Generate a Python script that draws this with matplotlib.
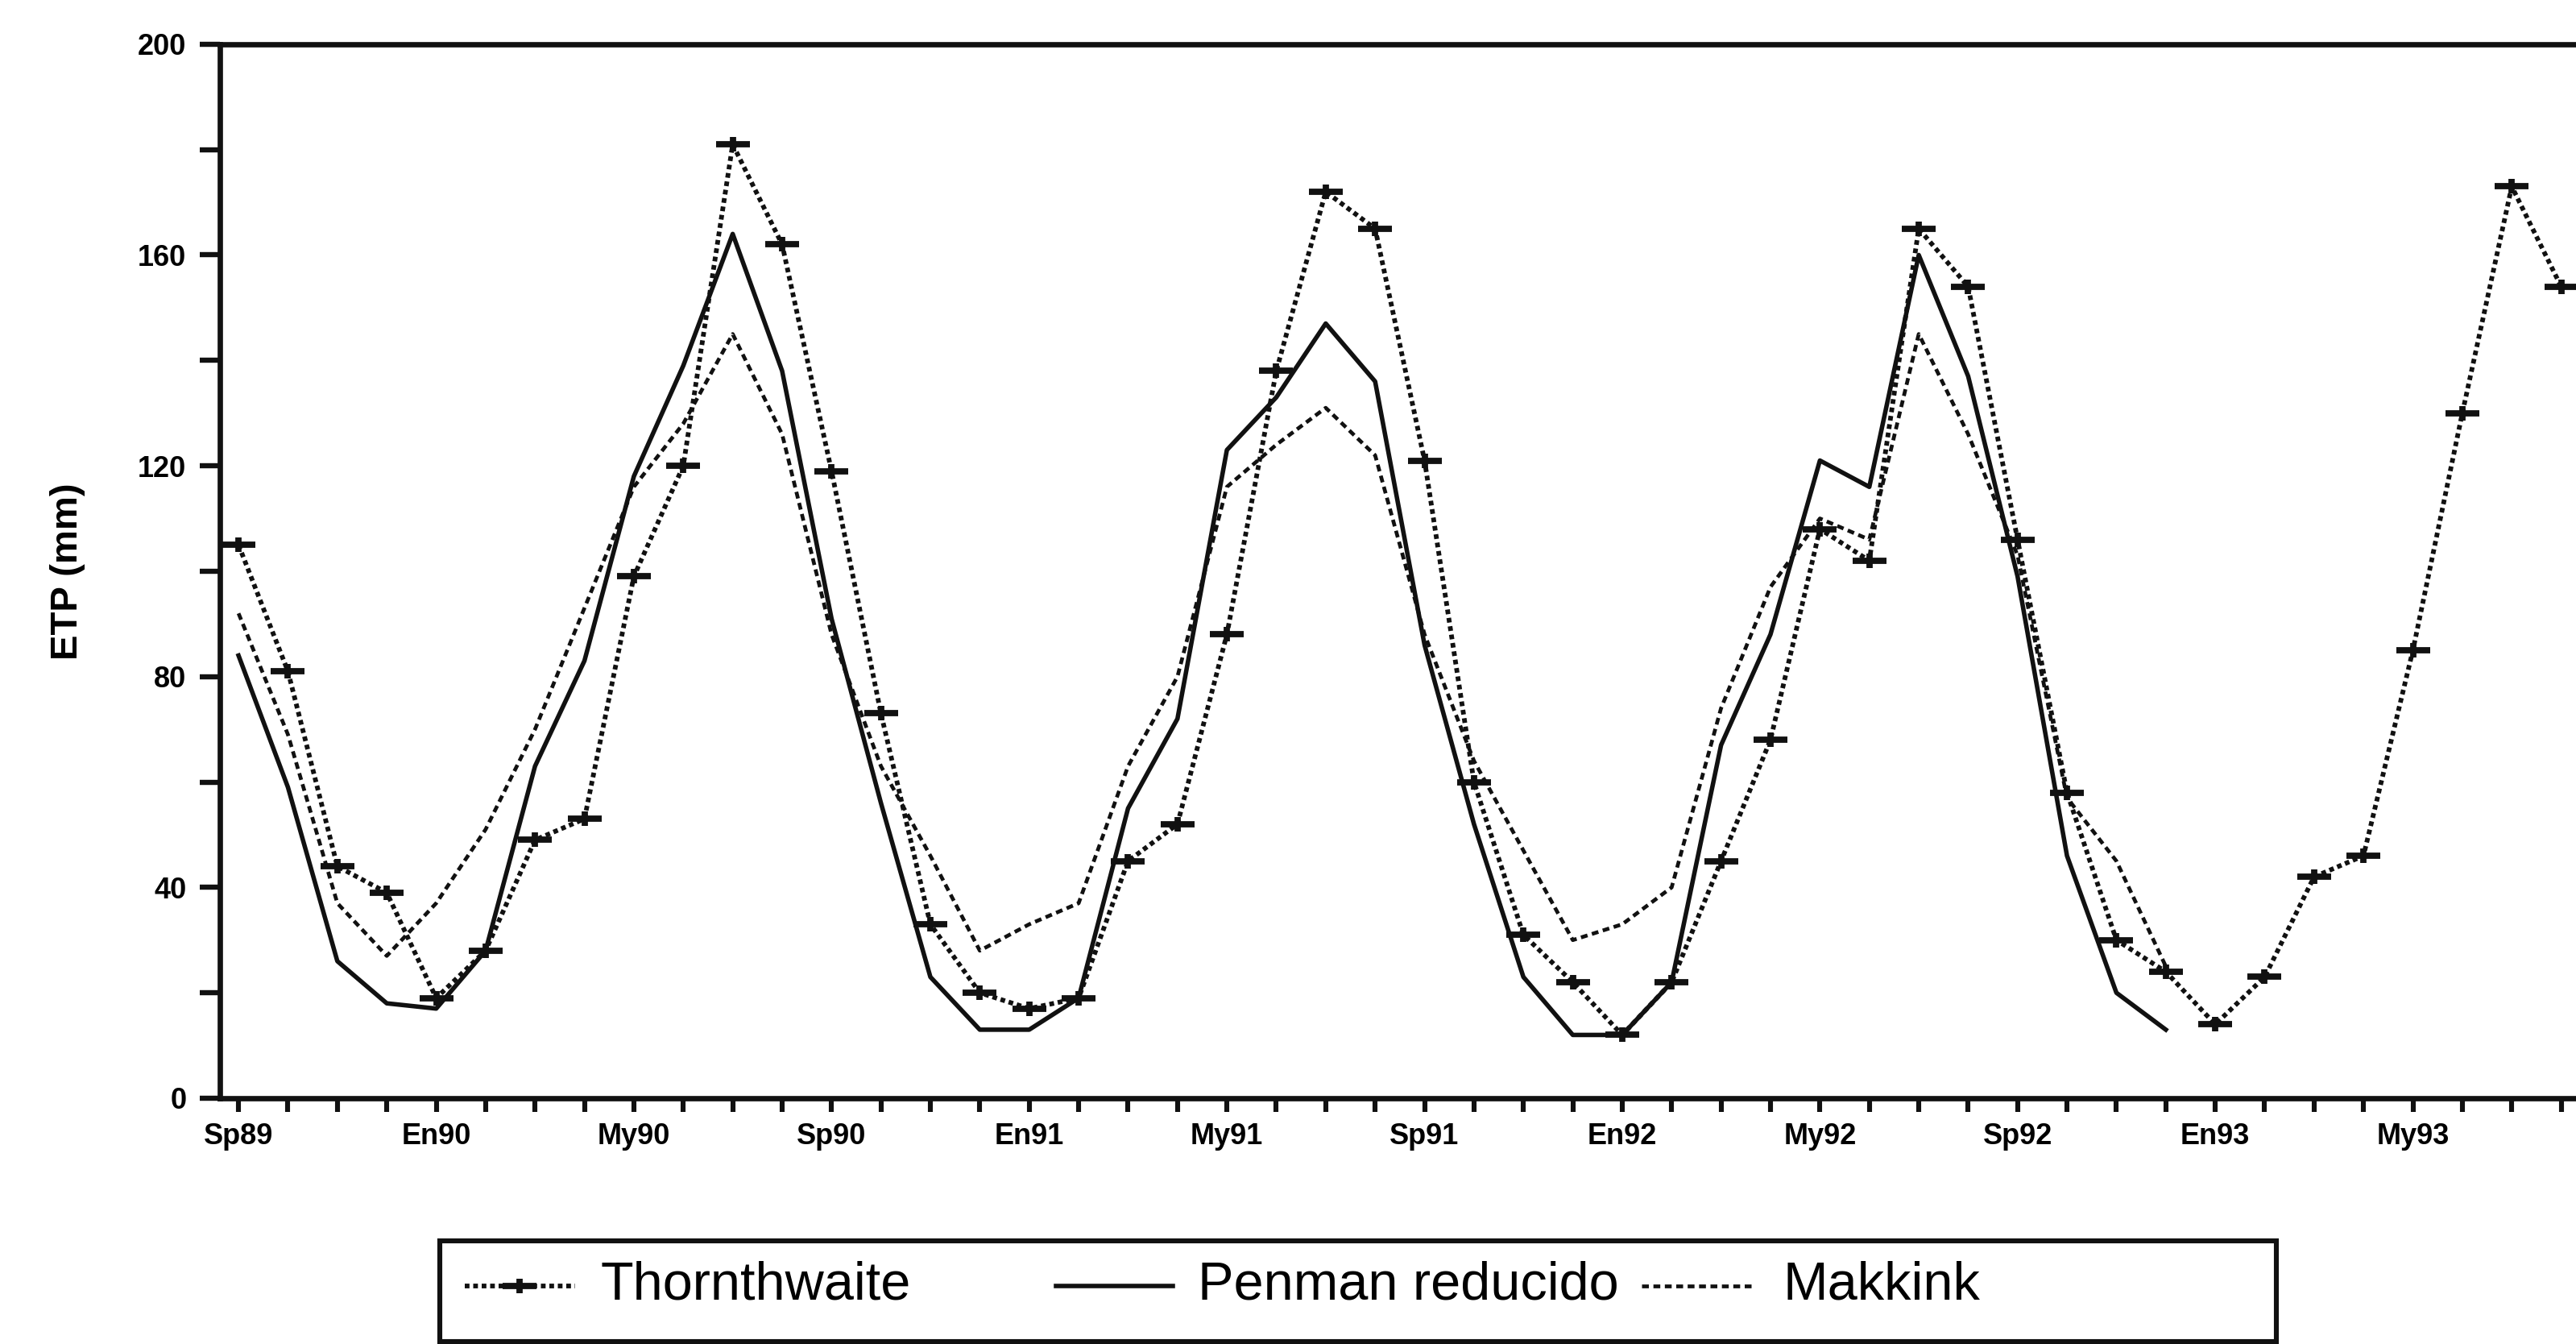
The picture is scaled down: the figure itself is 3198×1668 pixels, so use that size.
import numpy as np
import matplotlib.pyplot as plt
from matplotlib.path import Path
from matplotlib.lines import Line2D
from matplotlib.patches import Rectangle

plt.rcParams['font.family'] = ['Liberation Sans', 'DejaVu Sans']

# monthly ETP (mm), Sep 1989 onwards
month_labels = ['Sp89', 'En90', 'My90', 'Sp90', 'En91', 'My91',
                'Sp91', 'En92', 'My92', 'Sp92', 'En93', 'My93']

thornthwaite = [105, 81, 44, 39, 19, 28, 49, 53, 99, 120, 181, 162,
                119, 73, 33, 20, 17, 19, 45, 52, 88, 138, 172, 165,
                121, 60, 31, 22, 12, 22, 45, 68, 108, 102, 165, 154,
                106, 58, 30, 24, 14, 23, 42, 46, 85, 130, 173, 154]

penman = [84, 59, 26, 18, 17, 28, 63, 83, 118, 139, 164, 138,
          91, 56, 23, 13, 13, 19, 55, 72, 123, 133, 147, 136,
          86, 52, 23, 12, 12, 22, 67, 88, 121, 116, 160, 137,
          99, 46, 20, 13]

makkink = [92, 69, 37, 27, 37, 51, 70, 93, 116, 128, 145, 126,
           88, 63, 46, 28, 33, 37, 63, 80, 116, 124, 131, 122,
           88, 64, 47, 30, 33, 40, 74, 97, 110, 106, 145, 126,
           103, 57, 45, 25]

n_months = len(thornthwaite)

fig = plt.figure(figsize=(15.99, 8.34), dpi=200)
ax = fig.add_axes([0.0854, 0.1829, 0.9146, 0.7842])

# wide plus used as the Thornthwaite marker
cross = Path([(-1, 0), (1, 0), (0, -0.42), (0, 0.42)],
             [Path.MOVETO, Path.LINETO, Path.MOVETO, Path.LINETO])

ink = '#111111'
thorn_style = dict(color=ink, lw=2.1, linestyle=(0, (1.0, 0.8)),
                   marker=cross, markersize=15, markeredgewidth=2.8)
penman_style = dict(color=ink, lw=2.0, linestyle='-')
makkink_style = dict(color=ink, lw=1.7, linestyle=(0, (1.8, 1.2)))

ax.plot(np.arange(len(thornthwaite)), thornthwaite, **thorn_style)
ax.plot(np.arange(len(penman)), penman, **penman_style)
ax.plot(np.arange(len(makkink)), makkink, **makkink_style)

ax.set_xlim(-0.375, 47.3)
ax.set_ylim(0, 200)

for side in ['left', 'bottom', 'top']:
    ax.spines[side].set_linewidth(2.4)
    ax.spines[side].set_color(ink)
ax.spines['right'].set_visible(False)

ax.set_xticks(np.arange(n_months))
ax.set_xticklabels([month_labels[i // 4] if i % 4 == 0 else ''
                    for i in range(n_months)],
                   fontsize=13, fontweight='bold')
ax.tick_params(axis='x', direction='out', length=6, width=2.2, pad=5,
               color=ink)

ax.set_yticks(np.arange(0, 201, 40))
ax.set_yticks(np.arange(20, 200, 40), minor=True)
ax.set_yticklabels([str(v) for v in range(0, 201, 40)],
                   fontsize=13, fontweight='bold')
ax.tick_params(axis='y', which='both', direction='out', length=9,
               width=2.3, pad=6, color=ink)

ax.set_ylabel('ETP (mm)', fontsize=17, fontweight='bold')
ax.yaxis.set_label_coords(-0.057, 0.5)

# legend box under the axis
fig.add_artist(Rectangle((0.1707, 0.002), 0.713, 0.0747,
                         transform=fig.transFigure, fill=False,
                         lw=2.2, edgecolor=ink))
ly = 0.0432
fig.add_artist(Line2D([0.1804, 0.2017, 0.2233], [ly, ly, ly],
                      transform=fig.transFigure, markevery=[1],
                      **thorn_style))
fig.add_artist(Line2D([0.4099, 0.4553], [ly, ly],
                      transform=fig.transFigure, **penman_style))
fig.add_artist(Line2D([0.6373, 0.6801], [ly, ly],
                      transform=fig.transFigure, **makkink_style))
fig.text(0.2330, ly, 'Thornthwaite', fontsize=24, va='center')
fig.text(0.4650, ly, 'Penman reducido', fontsize=24, va='center')
fig.text(0.6923, ly, 'Makkink', fontsize=24, va='center')

fig.savefig('out.png', dpi=200, facecolor='white')
